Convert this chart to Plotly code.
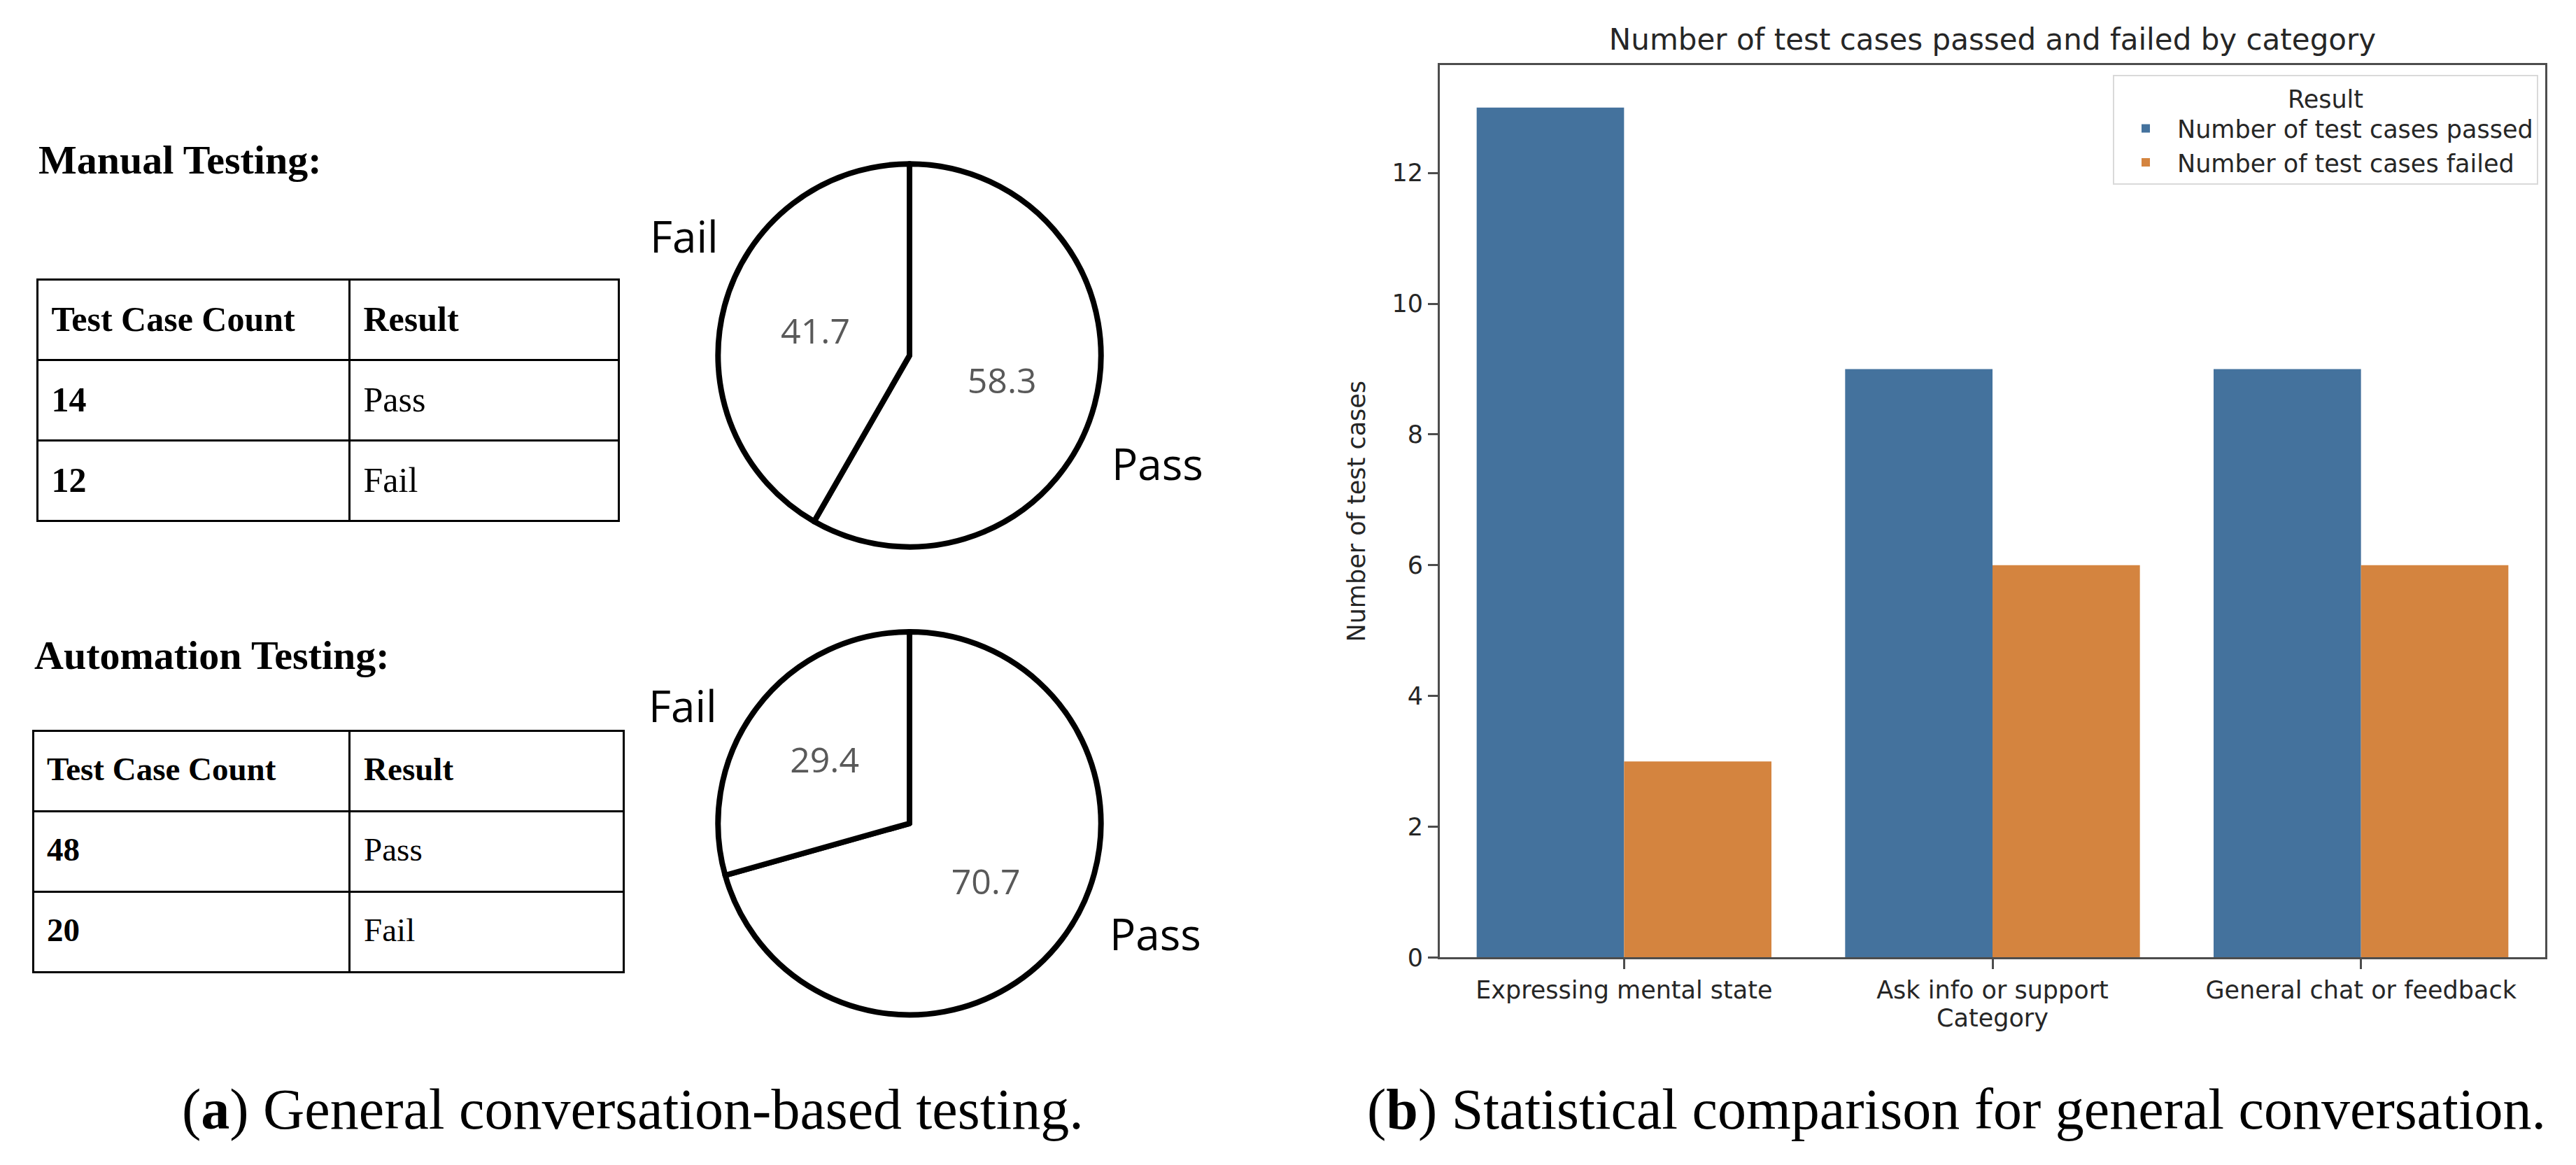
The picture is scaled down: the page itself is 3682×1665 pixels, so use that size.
import plotly.graph_objects as go

# left panel data
table_header = ["Test Case Count", "Result"]
results = ["Pass", "Fail"]
manual_counts = [14, 12]
auto_counts = [48, 20]

pie_labels = ["Pass", "Fail"]
manual_pct = [58.3, 41.7]
auto_pct = [70.7, 29.4]

# right panel data
categories = ["Expressing mental state", "Ask info or support", "General chat or feedback"]
passed = [13, 9, 9]
failed = [3, 6, 6]

W, H = 3682, 1665
BLUE = "#44729d"
ORANGE = "#d4843f"
SANS = "DejaVu Sans"
SERIF = "Liberation Serif"


def px(x0, x1):
    return [x0 / W, x1 / W]


def py(top, bottom):
    return [1 - bottom / H, 1 - top / H]


def cell(txt, fsize, bold=False):
    # plotly tables top-align the text box; a raised blank in front makes the
    # box taller so the words sit lower, near the middle of the row.
    # the trailing <br> stops the table from splitting the tags at spaces
    shift = 21
    spacer = (0.891 * fsize + shift - 0.42 * fsize) / 0.891
    t = "<b>" + txt + "</b>" if bold else txt
    return ('<sup><span style="font-size:%.1fpx">\u00a0</span></sup>' % spacer) + t + "<br>"


def make_table(counts, dom_x, dom_y, fsize):
    return go.Table(
        domain=dict(x=dom_x, y=dom_y),
        columnwidth=[446, 385],
        header=dict(
            values=[cell(h, fsize, True) for h in table_header],
            align="left", height=115,
            line=dict(color="black", width=3), fill_color="white",
            font=dict(family=SERIF, size=fsize, color="black"),
        ),
        cells=dict(
            values=[[cell(str(c), fsize, True) for c in counts],
                    [cell(r, fsize) for r in results]],
            align="left", height=115,
            line=dict(color="black", width=3), fill_color="white",
            font=dict(family=SERIF, size=fsize, color="black"),
        ),
    )


def make_pie(vals, dom_x, dom_y):
    return go.Pie(
        labels=pie_labels, values=vals, sort=False,
        direction="clockwise", rotation=0,
        domain=dict(x=dom_x, y=dom_y),
        marker=dict(colors=["white", "white"], line=dict(color="black", width=8)),
        texttemplate="%{value}", textposition="inside",
        insidetextorientation="horizontal",
        textfont=dict(family="Open Sans", size=50, color="#595959"),
        showlegend=False, hoverinfo="label+value",
    )


fig = go.Figure()
fig.add_trace(make_table(manual_counts, px(45, 876), py(396, 755), 50))
fig.add_trace(make_table(auto_counts, px(39, 883), py(1049, 1408), 47))
fig.add_trace(make_pie(manual_pct, px(1015, 1569), py(229, 783)))
fig.add_trace(make_pie(auto_pct, px(1015, 1569), py(906, 1460)))

fig.add_trace(go.Bar(x=categories, y=passed, name="Number of test cases passed",
                     marker=dict(color=BLUE, line=dict(width=0))))
fig.add_trace(go.Bar(x=categories, y=failed, name="Number of test cases failed",
                     marker=dict(color=ORANGE, line=dict(width=0))))

ann = []
# pie labels
for (lx, ly, txt) in [(970, 333, "Fail"), (1646, 662, "Pass"),
                      (968, 1012, "Fail"), (1643, 1342, "Pass")]:
    ann.append(dict(x=lx / W, y=1 - ly / H, xref="paper", yref="paper", text=txt,
                    xanchor="center", yanchor="middle", showarrow=False,
                    font=dict(family="Open Sans", size=62, color="black")))
# section headings
ann.append(dict(x=45 / W, y=1 - 223 / H, xref="paper", yref="paper",
                xanchor="left", yanchor="middle",
                text="<b>Manual Testing:</b>", showarrow=False,
                font=dict(family=SERIF, size=58, color="black")))
ann.append(dict(x=39 / W, y=1 - 940 / H, xref="paper", yref="paper",
                xanchor="left", yanchor="middle",
                text="<b>Automation Testing:</b>", showarrow=False,
                font=dict(family=SERIF, size=58, color="black")))
# captions
ann.append(dict(x=896 / W, y=1 - 1597 / H, xref="paper", yref="paper",
                xanchor="center", yanchor="middle",
                text="(<b>a</b>) General conversation-based testing.", showarrow=False,
                font=dict(family=SERIF, size=82, color="black")))
ann.append(dict(x=2788 / W, y=1 - 1597 / H, xref="paper", yref="paper",
                xanchor="center", yanchor="middle",
                text="(<b>b</b>) Statistical comparison for general conversation.", showarrow=False,
                font=dict(family=SERIF, size=82, color="black")))

xdom = px(2050, 3630)
fig.update_layout(
    width=W, height=H,
    margin=dict(l=0, r=0, t=0, b=0),
    paper_bgcolor="white", plot_bgcolor="white",
    barmode="group", bargap=0.2, bargroupgap=0,
    font=dict(family=SANS, size=35, color="#262626"),
    title=dict(text="Number of test cases passed and failed by category",
               x=(xdom[0] + xdom[1]) / 2, xanchor="center", y=1 - 48 / H, yanchor="middle",
               font=dict(family=SANS, size=42, color="#262626")),
    xaxis=dict(domain=xdom, range=[-0.5, 2.5], showline=True, mirror=True,
               linecolor="#4d4d4d", linewidth=3, ticks="outside", ticklen=14, tickwidth=3,
               tickcolor="#4d4d4d", showgrid=False, zeroline=False,
               tickfont=dict(family=SANS, size=35, color="#262626"),
               title=dict(text="Category", standoff=8,
                          font=dict(family=SANS, size=35, color="#262626"))),
    yaxis=dict(domain=py(86, 1377), range=[0, 13.65], dtick=2, showline=True, mirror=True,
               linecolor="#4d4d4d", linewidth=3, ticks="outside", ticklen=14, tickwidth=3,
               tickcolor="#4d4d4d", showgrid=False, zeroline=False,
               tickfont=dict(family=SANS, size=35, color="#262626"),
               title=dict(text="Number of test cases", standoff=28,
                          font=dict(family=SANS, size=35, color="#262626"))),
    legend=dict(x=3620 / W, xanchor="right", y=1 - 100 / H, yanchor="top",
                bgcolor="white", bordercolor="#d9d9d9", borderwidth=2, itemwidth=80,
                font=dict(family=SANS, size=35, color="#262626"),
                title=dict(text="Result", side="top center",
                           font=dict(family=SANS, size=35, color="#262626"))),
    annotations=ann,
)

fig.write_html("out.html")
